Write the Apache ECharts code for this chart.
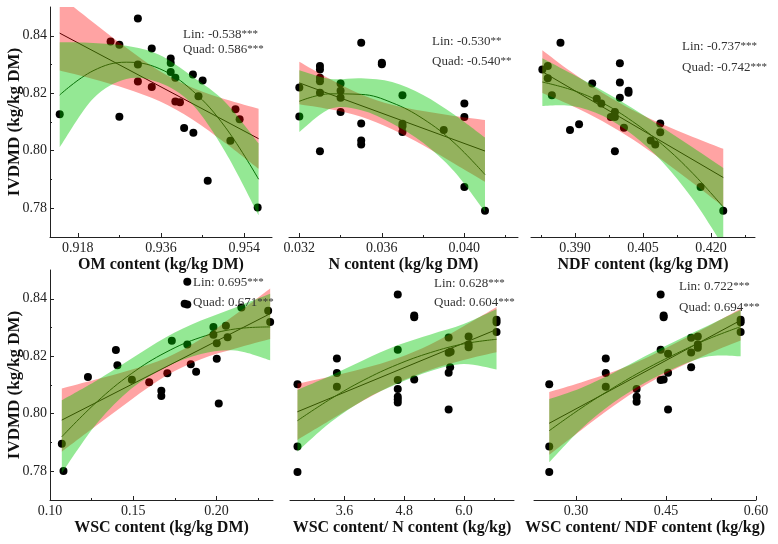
<!DOCTYPE html>
<html><head><meta charset="utf-8">
<script src="https://cdn.jsdelivr.net/npm/echarts@6/dist/echarts.min.js"></script>
<style>html,body{margin:0;padding:0;background:#fff}#c{width:778px;height:544px}</style>
</head><body><div id="c"></div>
<script>
// ---------- Tick values ----------
const yTicks = [0.78, 0.80, 0.82, 0.84];
const yMinor = [0.79, 0.81, 0.83];
const p1XTicks = [0.918, 0.936, 0.954], p1XMinor = [0.927, 0.945];
const p2XTicks = [0.032, 0.036, 0.040], p2XMinor = [0.034, 0.038, 0.042];
const p3XTicks = [0.390, 0.405, 0.420], p3XMinor = [0.3825, 0.3975, 0.4125, 0.4275];
const p4XTicks = [0.10, 0.15, 0.20], p4XMinor = [0.125, 0.175, 0.225];
const p5XTicks = [3.6, 4.8, 6.0], p5XMinor = [3.0, 4.2, 5.4, 6.6];
const p6XTicks = [0.30, 0.45, 0.60], p6XMinor = [0.375, 0.525];

// ---------- Panel 1: OM ----------
const p1PtX = [0.9141,0.9251,0.9270,0.9270,0.9310,0.9310,0.9310,0.9340,0.9340,0.9381,0.9381,0.9381,0.9391,0.9391,0.9401,0.9410,0.9429,0.9430,0.9441,0.9450,0.9461,0.9510,0.9521,0.9530,0.9569];
const p1PtY = [0.8127,0.8380,0.8369,0.8118,0.8460,0.8300,0.8241,0.8356,0.8222,0.8321,0.8305,0.8274,0.8254,0.8171,0.8169,0.8079,0.8265,0.8063,0.8190,0.8244,0.7896,0.8035,0.8144,0.8110,0.7803];
const p1LinX = [0.9141, 0.9571], p1LinY = [0.8409, 0.8042];
const p1BandX = [0.9141,0.9213,0.9285,0.9356,0.9428,0.9499,0.9571];
const p1RedLo = [0.8279,0.8250,0.8216,0.8173,0.8109,0.8027,0.7937];
const p1RedHi = [0.8539,0.8447,0.8358,0.8278,0.8219,0.8179,0.8146];
const p1Quad  = [0.8194,0.8278,0.8308,0.8286,0.8209,0.8082,0.7901];
const p1GrnLo = [0.8012,0.8181,0.8250,0.8237,0.8161,0.7996,0.7776];
const p1GrnHi = [0.8377,0.8375,0.8365,0.8334,0.8258,0.8169,0.8026];

// ---------- Panel 2: N ----------
const p2PtX = [0.032,0.032,0.033,0.033,0.033,0.033,0.033,0.033,0.034,0.034,0.034,0.034,0.035,0.035,0.035,0.035,0.036,0.036,0.037,0.037,0.037,0.037,0.039,0.040,0.040,0.040,0.041];
const p2PtY = [0.8220,0.8119,0.8295,0.8283,0.8254,0.8242,0.8202,0.7998,0.8234,0.8209,0.8184,0.8135,0.8376,0.8095,0.8036,0.8022,0.8306,0.8301,0.8193,0.8094,0.8085,0.8065,0.8072,0.8164,0.8117,0.7874,0.7791];
const p2LinX = [0.032, 0.041], p2LinY = [0.8236, 0.7999];
const p2BandX = [0.0320,0.0335,0.0350,0.0365,0.0380,0.0395,0.0410];
const p2RedLo = [0.8162,0.8144,0.8118,0.8075,0.8019,0.7956,0.7892];
const p2RedHi = [0.8310,0.8249,0.8196,0.8160,0.8138,0.8121,0.8107];
const p2Quad  = [0.8172,0.8198,0.8196,0.8167,0.8111,0.8028,0.7917];
const p2GrnLo = [0.8065,0.8146,0.8141,0.8095,0.8028,0.7929,0.7788];
const p2GrnHi = [0.8280,0.8250,0.8252,0.8239,0.8194,0.8126,0.8046];

// ---------- Panel 3: NDF ----------
const p3PtX = [0.3828,0.3840,0.3840,0.3849,0.3868,0.3889,0.3909,0.3938,0.3948,0.3958,0.3979,0.3988,0.3988,0.3988,0.3999,0.3999,0.3999,0.4008,0.4018,0.4018,0.4067,0.4077,0.4088,0.4088,0.4177,0.4227];
const p3PtY = [0.8283,0.8295,0.8252,0.8193,0.8376,0.8072,0.8092,0.8234,0.8181,0.8164,0.8117,0.8135,0.8117,0.7998,0.8304,0.8237,0.8184,0.8080,0.8209,0.8202,0.8036,0.8022,0.8095,0.8064,0.7874,0.7791];
const p3LinX = [0.3828, 0.4227], p3LinY = [0.8275, 0.7907];
const p3BandX = [0.3828,0.3894,0.3961,0.4027,0.4093,0.4160,0.4227];
const p3RedLo = [0.8201,0.8156,0.8103,0.8040,0.7967,0.7888,0.7806];
const p3RedHi = [0.8350,0.8272,0.8201,0.8142,0.8092,0.8048,0.8007];
const p3Quad  = [0.8239,0.8211,0.8166,0.8102,0.8021,0.7921,0.7804];
const p3GrnLo = [0.8156,0.8156,0.8122,0.8056,0.7961,0.7831,0.7668];
const p3GrnHi = [0.8322,0.8267,0.8209,0.8148,0.8081,0.8011,0.7940];

// ---------- Panel 4: WSC ----------
const p4PtX = [0.1071,0.1081,0.1228,0.1396,0.1405,0.1492,0.1596,0.1669,0.1669,0.1732,0.1705,0.1809,0.1825,0.1825,0.1825,0.1846,0.1878,0.1982,0.1982,0.2002,0.2002,0.2014,0.2057,0.2067,0.2150,0.2311,0.2323];
const p4PtY = [0.7896,0.7801,0.8128,0.8222,0.8169,0.8118,0.8110,0.8080,0.8062,0.8254,0.8141,0.8383,0.8459,0.8380,0.8241,0.8172,0.8146,0.8302,0.8275,0.8245,0.8191,0.8036,0.8306,0.8266,0.8370,0.8358,0.8319];
const p4LinX = [0.1071, 0.2323], p4LinY = [0.7978, 0.8348];
const p4BandX = [0.1071,0.1281,0.1488,0.1697,0.1907,0.2114,0.2323];
const p4RedLo = [0.7868,0.7960,0.8049,0.8132,0.8190,0.8227,0.8260];
const p4RedHi = [0.8088,0.8120,0.8153,0.8194,0.8260,0.8345,0.8436];
const p4Quad  = [0.7920,0.8041,0.8139,0.8214,0.8266,0.8295,0.8302];
const p4GrnLo = [0.7793,0.7966,0.8087,0.8162,0.8208,0.8220,0.8186];
const p4GrnHi = [0.8047,0.8116,0.8191,0.8266,0.8324,0.8370,0.8417];

// ---------- Panel 5: WSC/N ----------
const p5PtX = [2.66,2.66,2.66,3.45,3.45,3.45,4.67,4.67,4.67,4.67,4.67,4.67,4.67,5.00,5.00,5.00,5.69,5.69,5.69,5.72,5.69,5.73,6.09,6.09,6.09,6.65,6.65,6.65];
const p5PtY = [0.8103,0.7886,0.7797,0.8192,0.8142,0.8094,0.8415,0.8223,0.8117,0.8086,0.8059,0.8050,0.8039,0.8342,0.8336,0.8119,0.8265,0.8212,0.8143,0.8162,0.8015,0.8216,0.8269,0.8241,0.8231,0.8327,0.8318,0.8284];
const p5LinX = [2.66, 6.65], p5LinY = [0.8007, 0.8293];
const p5BandX = [2.66,3.33,3.99,4.66,5.33,5.99,6.65];
const p5RedLo = [0.7909,0.7979,0.8047,0.8107,0.8153,0.8187,0.8214];
const p5RedHi = [0.8105,0.8130,0.8158,0.8193,0.8242,0.8304,0.8371];
const p5Quad  = [0.7976,0.8052,0.8117,0.8171,0.8213,0.8243,0.8259];
const p5GrnLo = [0.7868,0.7971,0.8048,0.8104,0.8149,0.8173,0.8154];
const p5GrnHi = [0.8083,0.8133,0.8187,0.8238,0.8276,0.8312,0.8364];

// ---------- Panel 6: WSC/NDF ----------
const p6PtX = [0.2554,0.2554,0.2554,0.3496,0.3496,0.3496,0.4010,0.4010,0.4010,0.4411,0.4411,0.4411,0.4461,0.4461,0.4461,0.4534,0.4534,0.4534,0.4919,0.4919,0.4919,0.5030,0.5030,0.5030,0.5744,0.5744,0.5744];
const p6PtY = [0.8103,0.7886,0.7797,0.8192,0.8142,0.8094,0.8086,0.8059,0.8042,0.8415,0.8223,0.8117,0.8342,0.8336,0.8119,0.8209,0.8143,0.8015,0.8264,0.8213,0.8162,0.8269,0.8241,0.8230,0.8327,0.8318,0.8284];
const p6LinX = [0.2554, 0.5744], p6LinY = [0.7967, 0.8325];
const p6BandX = [0.2554,0.3084,0.3619,0.4149,0.4679,0.5214,0.5744];
const p6RedLo = [0.7857,0.7943,0.8026,0.8099,0.8158,0.8210,0.8255];
const p6RedHi = [0.8076,0.8109,0.8146,0.8192,0.8248,0.8305,0.8365];
const p6Quad  = [0.7941,0.8019,0.8090,0.8154,0.8210,0.8261,0.8303];
const p6GrnLo = [0.7831,0.7947,0.8038,0.8108,0.8162,0.8200,0.8200];
const p6GrnHi = [0.8051,0.8090,0.8142,0.8200,0.8255,0.8308,0.8362];

// ---------- Annotation texts ----------
const linR  = ['-0.538', '-0.530', '-0.737', '0.695', '0.628', '0.722'];
const linS  = ['***', '**', '***', '***', '***', '***'];
const quadR = ['0.586', '-0.540', '-0.742', '0.671', '0.604', '0.694'];
const quadS = ['***', '**', '***', '***', '***', '***'];
const xNames = ['OM content (kg/kg DM)', 'N content (kg/kg DM)', 'NDF content (kg/kg DM)',
                'WSC content (kg/kg DM)', 'WSC content/ N content (kg/kg)', 'WSC content/ NDF content (kg/kg)'];
const yName = 'IVDMD (kg/kg DM)';

// ---------- Layout ----------
const FONT = '"Liberation Serif","Times New Roman",serif';
const TXT = '#222';
const RED = 'rgba(255,0,0,0.36)';
const GREEN = 'rgba(0,200,0,0.42)';

const P = [
  {g:[50,7,222,230],  xr:[0.912,0.960],  maj:p1XTicks, min:p1XMinor, dec:3, gap:12, showY:true,
   ptX:p1PtX, ptY:p1PtY, lx:p1LinX, ly:p1LinY, bx:p1BandX, rl:p1RedLo, rh:p1RedHi, q:p1Quad, gl:p1GrnLo, gh:p1GrnHi, ax:183, ay:[35,50]},
  {g:[289,7,229,230], xr:[0.0315,0.0426],maj:p2XTicks, min:p2XMinor, dec:3, gap:12, showY:false,
   ptX:p2PtX, ptY:p2PtY, lx:p2LinX, ly:p2LinY, bx:p2BandX, rl:p2RedLo, rh:p2RedHi, q:p2Quad, gl:p2GrnLo, gh:p2GrnHi, ax:432, ay:[42,62]},
  {g:[531,7,224,230], xr:[0.3803,0.4297],maj:p3XTicks, min:p3XMinor, dec:3, gap:12, showY:false,
   ptX:p3PtX, ptY:p3PtY, lx:p3LinX, ly:p3LinY, bx:p3BandX, rl:p3RedLo, rh:p3RedHi, q:p3Quad, gl:p3GrnLo, gh:p3GrnHi, ax:682, ay:[47,68]},
  {g:[50,270,223,230], xr:[0.10,0.234],  maj:p4XTicks, min:p4XMinor, dec:2, gap:10, showY:true,
   ptX:p4PtX, ptY:p4PtY, lx:p4LinX, ly:p4LinY, bx:p4BandX, rl:p4RedLo, rh:p4RedHi, q:p4Quad, gl:p4GrnLo, gh:p4GrnHi, ax:193, ay:[283,303]},
  {g:[290,270,224,230], xr:[2.51,7.0],   maj:p5XTicks, min:p5XMinor, dec:1, gap:10, showY:false,
   ptX:p5PtX, ptY:p5PtY, lx:p5LinX, ly:p5LinY, bx:p5BandX, rl:p5RedLo, rh:p5RedHi, q:p5Quad, gl:p5GrnLo, gh:p5GrnHi, ax:434, ay:[284,303]},
  {g:[534,270,222,230], xr:[0.23,0.60],  maj:p6XTicks, min:p6XMinor, dec:2, gap:10, showY:false,
   ptX:p6PtX, ptY:p6PtY, lx:p6LinX, ly:p6LinY, bx:p6BandX, rl:p6RedLo, rh:p6RedHi, q:p6Quad, gl:p6GrnLo, gh:p6GrnHi, ax:679, ay:[287,308]}
];

// Smooth path segments (Catmull-Rom as cubic Bezier) through pixel points, for drawing band edges
function crSegs(pts) {
  let d = '';
  for (let k = 0; k < pts.length - 1; k++) {
    const p0 = pts[Math.max(k - 1, 0)], p1 = pts[k], p2 = pts[k + 1], p3 = pts[Math.min(k + 2, pts.length - 1)];
    const c1x = p1[0] + (p2[0] - p0[0]) / 6, c1y = p1[1] + (p2[1] - p0[1]) / 6;
    const c2x = p2[0] - (p3[0] - p1[0]) / 6, c2y = p2[1] - (p3[1] - p1[1]) / 6;
    d += ' C' + c1x + ' ' + c1y + ' ' + c2x + ' ' + c2y + ' ' + p2[0] + ' ' + p2[1];
  }
  return d;
}
function bandSeries(i, xs, lo, hi, color) {
  return {
    type:'custom', xAxisIndex:2*i, yAxisIndex:2*i, clip:true, silent:true, z:5,
    data: xs.map((x,k)=>[x, lo[k], hi[k]]),
    encode:{x:0, y:[1,2]},
    renderItem:(params, api) => {
      if (params.dataIndex !== 0) return null;
      const up = xs.map((x,k)=>api.coord([x, hi[k]]));
      const dn = xs.map((x,k)=>api.coord([x, lo[k]])).reverse();
      const d = 'M' + up[0][0] + ' ' + up[0][1] + crSegs(up) +
                ' L' + dn[0][0] + ' ' + dn[0][1] + crSegs(dn) + ' Z';
      const cs = params.coordSys;
      return {type:'path', shape:{pathData:d}, style:{fill:color, stroke:null},
              clipPath:{type:'rect', shape:{x:cs.x, y:cs.y, width:cs.width, height:cs.height}}};
    }
  };
}

const grid = [], xAxis = [], yAxis = [], series = [], graphic = [];
P.forEach((p, i) => {
  grid.push({left:p.g[0], top:p.g[1], width:p.g[2], height:p.g[3], outerBoundsMode:'none', containLabel:false});
  xAxis.push({
    type:'value', gridIndex:i, min:p.xr[0], max:p.xr[1], position:'bottom',
    axisLine:{show:true, onZero:false, lineStyle:{color:'#222', width:1}},
    axisTick:{show:true, inside:true, length:4, customValues:p.maj, lineStyle:{color:'#222'}},
    axisLabel:{show:true, customValues:p.maj, margin:4, color:TXT, fontFamily:FONT, fontSize:14,
               formatter:(v)=>Number(v).toFixed(p.dec)},
    splitLine:{show:false},
    name:xNames[i], nameLocation:'middle', nameGap:p.gap,
    nameTextStyle:{fontFamily:FONT, fontWeight:'bold', fontSize:16, color:'#111', lineHeight:18}
  });
  xAxis.push({
    type:'value', gridIndex:i, min:p.xr[0], max:p.xr[1], position:'bottom',
    axisLine:{show:false, onZero:false},
    axisTick:{show:true, inside:true, length:2, customValues:p.min, lineStyle:{color:'#222'}},
    axisLabel:{show:false}, splitLine:{show:false}
  });
  yAxis.push({
    type:'value', gridIndex:i, min:0.77, max:0.85, position:'left', show:p.showY,
    axisLine:{show:true, onZero:false, lineStyle:{color:'#222', width:1}},
    axisTick:{show:true, inside:true, length:4, customValues:yTicks, lineStyle:{color:'#222'}},
    axisLabel:{show:true, customValues:yTicks, margin:3, color:TXT, fontFamily:FONT, fontSize:14,
               formatter:(v)=>Number(v).toFixed(2)},
    splitLine:{show:false},
    name:p.showY ? yName : '', nameLocation:'middle', nameGap:26, nameMoveOverlap:false,
    nameTextStyle:{fontFamily:FONT, fontWeight:'bold', fontSize:17, color:'#111', lineHeight:18}
  });
  yAxis.push({
    type:'value', gridIndex:i, min:0.77, max:0.85, position:'left', show:p.showY,
    axisLine:{show:false, onZero:false},
    axisTick:{show:true, inside:true, length:2, customValues:yMinor, lineStyle:{color:'#222'}},
    axisLabel:{show:false}, splitLine:{show:false}
  });
  const xi = 2*i, yi = 2*i;
  series.push({type:'scatter', xAxisIndex:xi, yAxisIndex:yi, symbolSize:8, z:2,
    itemStyle:{color:'#000', opacity:1}, data:p.ptX.map((x,k)=>[x,p.ptY[k]])});
  series.push({type:'line', xAxisIndex:xi, yAxisIndex:yi, showSymbol:false, z:2,
    lineStyle:{color:'#000', width:1}, data:p.lx.map((x,k)=>[x,p.ly[k]])});
  series.push({type:'line', xAxisIndex:xi, yAxisIndex:yi, showSymbol:false, smooth:0.4, z:2,
    lineStyle:{color:'#0b300b', width:1}, data:p.bx.map((x,k)=>[x,p.q[k]])});
  series.push(bandSeries(i, p.bx, p.rl, p.rh, RED));
  series.push(bandSeries(i, p.bx, p.gl, p.gh, GREEN));
  const rich = {s:{fontSize:11, fontFamily:FONT, fill:'#333', verticalAlign:'top'}};
  graphic.push({type:'text', x:p.ax, y:p.ay[0], z:100,
    style:{text:'Lin: '+linR[i]+'{s|'+linS[i]+'}', rich, fontFamily:FONT, fontSize:13, fill:'#333', verticalAlign:'middle'}});
  graphic.push({type:'text', x:p.ax, y:p.ay[1], z:100,
    style:{text:'Quad: '+quadR[i]+'{s|'+quadS[i]+'}', rich, fontFamily:FONT, fontSize:13, fill:'#333', verticalAlign:'middle'}});
});

const chart = echarts.init(document.getElementById('c'), null, {renderer:'canvas'});
chart.setOption({animation:false, backgroundColor:'#fff', grid, xAxis, yAxis, series, graphic});
</script></body></html>
